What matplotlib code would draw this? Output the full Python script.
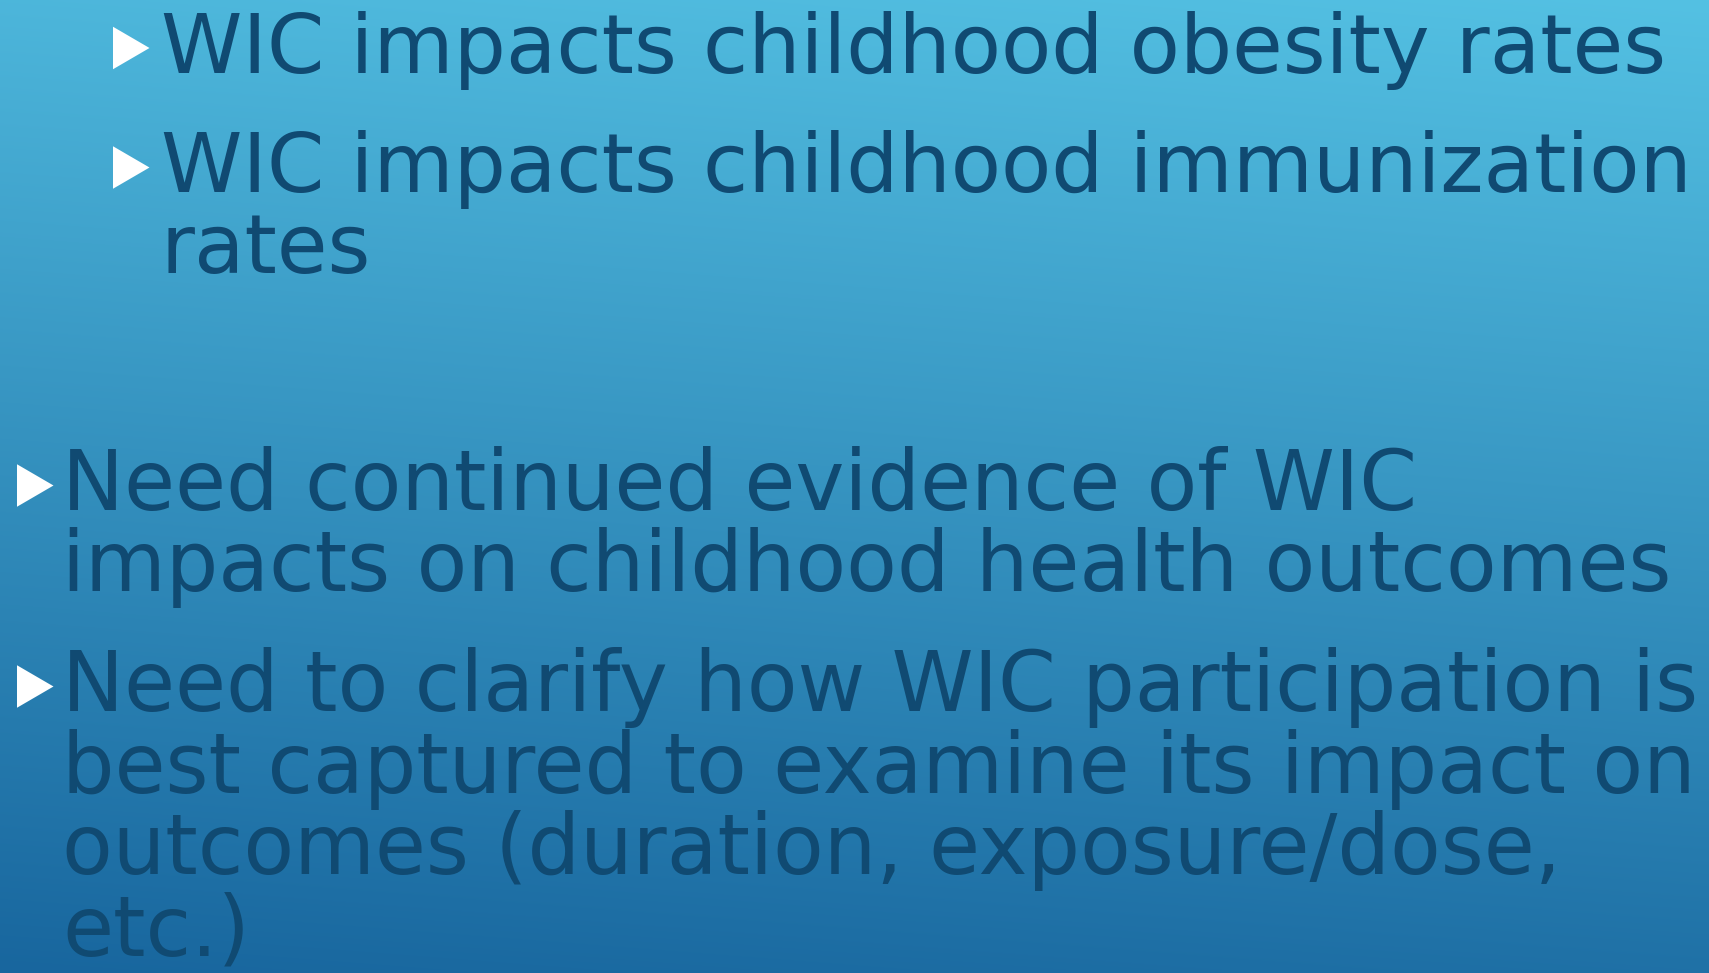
import matplotlib
matplotlib.use("Agg")
import matplotlib.pyplot as plt
import numpy as np
from matplotlib.patches import Polygon

# ---- content ----
bullet_levels = [2, 2, 1, 1]
bullet_lines = [
    ["WIC impacts childhood obesity rates"],
    ["WIC impacts childhood immunization", "rates"],
    ["Need continued evidence of WIC", "impacts on childhood health outcomes"],
    ["Need to clarify how WIC participation is",
     "best captured to examine its impact on",
     "outcomes (duration, exposure/dose,",
     "etc.)"],
]
# approximate right edges (px) of each line in the reference, used to size the font
line_right = [
    [1670],
    [1696, 357],
    [1460, 1695],
    [1696, 1696, 1569, 248],
]

# ---- layout ----
W, H = 1709, 973
first_baselines = [72.5, 192, 510, 711]
line_gap = 81.5
text_x = {2: 161, 1: 62}
tri_x = {2: 113, 1: 17}
tri_w, tri_h = 36.5, 42.5
text_color = "#104a72"

fig = plt.figure(figsize=(W / 100, H / 100), dpi=100)
ax = fig.add_axes([0, 0, 1, 1])
ax.set_xlim(0, W)
ax.set_ylim(H, 0)
ax.axis("off")

# background gradient (lighter top-right, darker bottom-left)
yy = np.linspace(0, 1, 400)[:, None]
xx = np.linspace(0, 1, 400)[None, :]
t = np.clip(0.88 * yy + 0.12 * (1 - xx), 0, 1)
top = np.array([84, 193, 227]) / 255
bot = np.array([24, 102, 158]) / 255
img = top[None, None, :] * (1 - t[..., None]) + bot[None, None, :] * t[..., None]
ax.imshow(img, extent=[0, W, H, 0], aspect="auto", zorder=0, interpolation="bilinear")

fs0 = 60
texts = []
for lvl, lines, base, rights in zip(bullet_levels, bullet_lines, first_baselines, line_right):
    cy = base - 24.5
    x0 = tri_x[lvl]
    ax.add_patch(Polygon([[x0, cy - tri_h / 2], [x0 + tri_w, cy], [x0, cy + tri_h / 2]],
                         closed=True, facecolor="white", edgecolor="none", zorder=2))
    for i, (ln, r) in enumerate(zip(lines, rights)):
        tx = ax.text(text_x[lvl], base + i * line_gap, ln, fontsize=fs0,
                     family="DejaVu Sans", color=text_color, ha="left", va="baseline", zorder=3)
        texts.append((tx, lvl, text_x[lvl], r, len(ln)))

# fit one font size per indent level so line widths match the reference,
# while keeping every line inside the slide
fig.canvas.draw()
rend = fig.canvas.get_renderer()
for level in (1, 2):
    meas, targ = 0.0, 0.0
    limit = np.inf
    for tx, lvl, x0, r, n in texts:
        if lvl == level and n > 10:
            w = tx.get_window_extent(rend).width
            meas += w
            targ += (r - x0)
            limit = min(limit, (W - 8 - x0) / w)
    fs = fs0 * min(targ / meas, limit)
    for tx, lvl, *_ in texts:
        if lvl == level:
            tx.set_fontsize(fs)

fig.savefig("out.png", dpi=100)
